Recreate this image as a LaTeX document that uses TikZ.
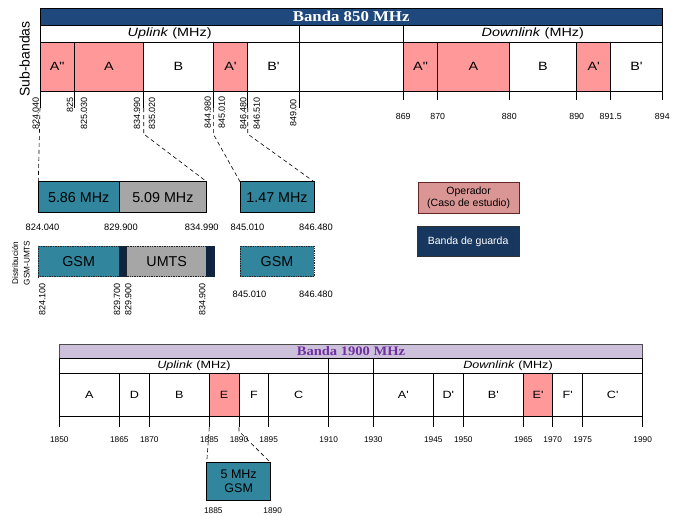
\documentclass[tikz,border=0pt]{standalone}
\usepackage{fontspec}
\setmainfont{Liberation Sans}
\newfontfamily\wfont[FakeStretch=1.2]{Liberation Sans}
\newfontfamily\hfont[FakeStretch=1.12]{Liberation Serif}
\definecolor{navyhdr}{HTML}{1F497D}
\definecolor{salmon}{HTML}{FF9999}
\definecolor{tealbox}{HTML}{31859C}
\definecolor{graybox}{HTML}{A6A6A6}
\definecolor{guard}{HTML}{0F243E}
\definecolor{legguard}{HTML}{17375E}
\definecolor{legop}{HTML}{D99694}
\definecolor{legopborder}{HTML}{632523}
\definecolor{lavender}{HTML}{CCC0DA}
\definecolor{purplet}{HTML}{7030A0}
\newcommand\mycell[7][]{\node[cell,#1,minimum width={#5-#3},minimum height={#6-#4}] (#2) at ({(#3+#5)/2},{(#4+#6)/2}) {#7};}
\begin{document}
\begin{tikzpicture}[x=1pt,y=-1pt,
  cell/.style={draw=black,line width=0.7pt,inner sep=0pt,outer sep=0pt,fill=white,font=\wfont\fontsize{12}{14}\selectfont,align=center},
  small/.style={font=\wfont\fontsize{10.5}{12}\selectfont},
  hdrA/.style={fill=navyhdr,text=white,font=\hfont\bfseries\fontsize{15}{17}\selectfont},
  hdrB/.style={fill=lavender,draw=black!70,text=purplet,font=\hfont\bfseries\fontsize{13}{15}\selectfont},
  sal/.style={fill=salmon},
  midbox/.style={font=\fontsize{14.3}{16}\selectfont},
  teal/.style={fill=tealbox},
  grayf/.style={fill=graybox},
  distbox/.style={draw=black!85,densely dotted,line width=0.8pt},
  guardbox/.style={fill=guard,draw=guard},
  tickl/.style={line width=0.7pt,black},
  rl/.style={rotate=90,anchor=east,inner sep=0pt,font=\fontsize{9}{10}\selectfont},
  hl/.style={inner sep=0pt,font=\fontsize{8.8}{10}\selectfont},
  hlb/.style={inner sep=0pt,font=\fontsize{9.3}{10}\selectfont},
  dashc/.style={line width=0.6pt,dash pattern=on 4pt off 3pt}
]
\useasboundingbox (0,0) rectangle (680,515);

% ===== Band 850 =====
\mycell[hdrA]{h850}{40}{8.5}{662.3}{25}{Banda 850 MHz}
\mycell{upA}{40}{25}{299.3}{42}{\textit{Uplink} (MHz)}
\mycell{midA}{299.3}{25}{403.3}{42}{}
\mycell{dnA}{403.3}{25}{662.3}{42}{\textit{Downlink} (MHz)}

\mycell[sal]{uA2}{40}{42}{74.3}{91}{A"}
\mycell[sal]{uA}{74.3}{42}{143.7}{91}{A}
\mycell{uB}{143.7}{42}{213.3}{91}{B}
\mycell[sal]{uA1}{213.3}{42}{247.7}{91}{A'}
\mycell{uB1}{247.7}{42}{299.3}{91}{B'}
\mycell{gapA}{299.3}{42}{403.3}{91}{}
\mycell[sal]{dA2}{403.3}{42}{437.7}{91}{A"}
\mycell[sal]{dA}{437.7}{42}{509.3}{91}{A}
\mycell{dB}{509.3}{42}{576.7}{91}{B}
\mycell[sal]{dA1}{576.7}{42}{610.7}{91}{A'}
\mycell{dB1}{610.7}{42}{662.3}{91}{B'}

\node[rotate=90,inner sep=0pt,font=\fontsize{14}{16}\selectfont] (subb) at (24.5,59) {Sub-bandas};

% ticks uplink
\coordinate (t1) at (40,108);
\coordinate (t2) at (74.3,108);
\coordinate (t3) at (143.7,108);
\coordinate (t4) at (213.3,108);
\coordinate (t5) at (247.7,108);
\coordinate (t6) at (299.3,108);
\foreach \x in {40,74.3,143.7,213.3,247.7,299.3} \draw[tickl] (\x,91) -- (\x,108);
\foreach \x in {403.3,437.7,509.3,576.7,610.7,662.3} \draw[tickl] (\x,91) -- (\x,100);

\node[rl] (l1) at (35.7,97) {824.040};
\node[rl] (l2) at (70,97) {825};
\node[rl] (l3) at (84,97) {825.030};
\node[rl] (l4) at (137,97) {834.990};
\node[rl] (l5) at (152,97) {835.020};
\node[rl] (l6) at (207.7,96) {844.980};
\node[rl] (l7) at (221.7,96) {845.010};
\node[rl] (l8) at (243.3,97) {846.480};
\node[rl] (l9) at (256.7,97) {846.510};
\node[rl] (l10) at (293.3,99) {849.00};

\node[hl] (d1) at (403.3,116.3) {869};
\node[hl] (d2) at (437.7,116.3) {870};
\node[hl] (d3) at (509.3,116.3) {880};
\node[hl] (d4) at (576.7,116.3) {890};
\node[hl] (d5) at (610.7,116.3) {891.5};
\node[hl] (d6) at (662.3,116.3) {894};

% ===== middle boxes =====
\mycell[teal,midbox]{b586}{38.3}{181.7}{119}{212.7}{5.86 MHz}
\mycell[grayf,midbox]{b509}{119}{181.7}{206.7}{212.7}{5.09 MHz}
\mycell[teal,midbox]{b147}{240}{181.7}{314}{212.7}{1.47 MHz}

\node[hlb] (m1) at (42.5,227.7) {824.040};
\node[hlb] (m2) at (121,227.7) {829.900};
\node[hlb] (m3) at (201.8,227.7) {834.990};
\node[hlb] (m4) at (247.5,227.7) {845.010};
\node[hlb] (m5) at (316,227.7) {846.480};

% distribution
\mycell[teal,midbox,distbox]{gsm1}{38.3}{246}{119}{276.7}{GSM}
\mycell[guardbox]{g1}{119}{246}{126.7}{276.7}{}
\mycell[grayf,midbox,distbox]{umts}{126.7}{246}{206.7}{276.7}{UMTS}
\mycell[guardbox]{g2}{206.7}{246}{214}{276.7}{}
\mycell[teal,midbox,distbox]{gsm2}{240}{246}{314}{276.7}{GSM}

\node[rl] (r1) at (42.3,283) {824.100};
\node[rl] (r2) at (117,283) {829.700};
\node[rl] (r3) at (128.3,283) {829.900};
\node[rl] (r4) at (202.3,283) {834.900};
\node[hlb] (r5) at (249.5,294.3) {845.010};
\node[hlb] (r6) at (316,294.3) {846.480};

\node[rotate=90,inner sep=0pt,align=center,font=\fontsize{8.2}{11.5}\selectfont] (dist) at (21,263) {Distribución\\GSM-UMTS};

% legend
\mycell[fill=legop,draw=legopborder,font=\fontsize{10.5}{12.6}\selectfont]{legop}{418.3}{182.3}{519}{213.3}{Operador\\(Caso de estudio)}
\mycell[fill=legguard,draw=black!80,text=white,font=\fontsize{10.5}{12.6}\selectfont]{leggb}{417.3}{226.7}{519}{256}{Banda de guarda}

% dashed connectors (850)
\draw[dashc] (t1) -- (b586.north west);
\draw[dashc] (t3) -- ++(0,26) -- (b509.north east);
\draw[dashc] (t4) -- ++(0,26) -- (b147.north west);
\draw[dashc] (t5) -- ++(0,26) -- (b147.north east);

% ===== Band 1900 =====
\mycell[hdrB]{h1900}{59.3}{344}{642.7}{358.3}{Banda 1900 MHz}
\mycell[small]{upB}{59.3}{358.3}{328.7}{373.3}{\textit{Uplink} (MHz)}
\mycell{midB}{328.7}{358.3}{373.3}{373.3}{}
\mycell[small]{dnB}{373.3}{358.3}{642.7}{373.3}{\textit{Downlink} (MHz)}

\mycell[small]{bA}{59.3}{373.3}{119.3}{416.7}{A}
\mycell[small]{bD}{119.3}{373.3}{149.3}{416.7}{D}
\mycell[small]{bB}{149.3}{373.3}{209.3}{416.7}{B}
\mycell[small,sal]{bE}{209.3}{373.3}{239}{416.7}{E}
\mycell[small]{bF}{239}{373.3}{268.7}{416.7}{F}
\mycell[small]{bC}{268.7}{373.3}{328.7}{416.7}{C}
\mycell{bgap}{328.7}{373.3}{373.3}{416.7}{}
\mycell[small]{bA1}{373.3}{373.3}{433.3}{416.7}{A'}
\mycell[small]{bD1}{433.3}{373.3}{463.3}{416.7}{D'}
\mycell[small]{bB1}{463.3}{373.3}{523.3}{416.7}{B'}
\mycell[small,sal]{bE1}{523.3}{373.3}{552.7}{416.7}{E'}
\mycell[small]{bF1}{552.7}{373.3}{582.7}{416.7}{F'}
\mycell[small]{bC1}{582.7}{373.3}{642.7}{416.7}{C'}

\foreach \x/\v in {59.3/1850,119.3/1865,149.3/1870,209.3/1885,239/1890,268.7/1895,328.7/1910,373.3/1930,433.3/1945,463.3/1950,523.3/1965,552.7/1970,582.7/1975,642.7/1990}{
  \draw[tickl] (\x,416.7) -- (\x,427.3);
  \node[hl,font=\fontsize{8.3}{9}\selectfont] at (\x,439.3) {\v};
}
\coordinate (e1) at (209.3,427.3);
\coordinate (e2) at (239,427.3);

\mycell[teal,font=\fontsize{12.5}{14}\selectfont]{b5}{206.7}{462.7}{270.7}{500}{5 MHz\\GSM}
\node[hl,font=\fontsize{8.3}{9}\selectfont] (f1) at (213.3,510.7) {1885};
\node[hl,font=\fontsize{8.3}{9}\selectfont] (f2) at (272.7,510.7) {1890};

\draw[dashc] (e1) -- (b5.north west);
\draw[dashc] (e2) -- ++(0,4) -- (b5.north east);
\end{tikzpicture}
\end{document}
